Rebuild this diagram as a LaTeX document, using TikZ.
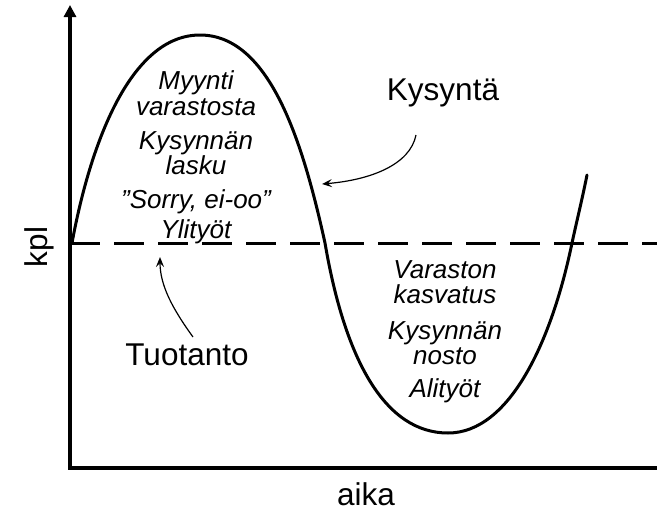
\documentclass[tikz,border=0pt]{standalone}
\usepackage{fontspec}
\setmainfont{Liberation Sans}
\usetikzlibrary{arrows.meta}
\tikzset{
  axisline/.style={line width=3.5pt},
  curveline/.style={line width=3pt, line cap=round},
  levelline/.style={line width=3pt, dash pattern=on 30pt off 14pt},
  pointer/.style={line width=1.2pt, -{Stealth[length=10pt,width=8pt,inset=4pt]}},
  biglabel/.style={font=\fontsize{31.5}{31.5}\selectfont, inner sep=0pt, anchor=base},
  inlabel/.style={font=\fontsize{26}{26}\selectfont\itshape, inner sep=0pt, anchor=base}
}
\begin{document}
\begin{tikzpicture}[x=1pt,y=-1pt]
\useasboundingbox (0,0) rectangle (657,515);
% axes
\draw[axisline, {Triangle[length=12pt,width=12pt]}-] (70,5) -- (70,468) -- (657,468);
% production level
\draw[levelline] (70,243) -- (657,243);
% demand curve
\draw[curveline] (72,243) .. controls (90,145) and (130,35) .. (200,35)
  .. controls (270,35) and (303,143) .. (325,243)
  .. controls (345,360) and (385,433) .. (448,433)
  .. controls (510,433) and (552,340) .. (572,243)
  .. controls (577,220) and (582,200) .. (587,175);
% labels
\node[biglabel] (kysynta) at (443,100) {Kysyntä};
\node[biglabel] (tuotanto) at (187,365) {Tuotanto};
\node[biglabel] (aika) at (366,505) {aika};
\node[biglabel, rotate=90] (kpl) at (48,247) {kpl};
% left group
\node[inlabel] (l1) at (196,89) {Myynti};
\node[inlabel] (l2) at (196,115) {varastosta};
\node[inlabel] (l3) at (196,149) {Kysynnän};
\node[inlabel] (l4) at (196,174) {lasku};
\node[inlabel] (l5) at (196,208) {”Sorry, ei-oo”};
\node[inlabel] (l6) at (196,238) {Ylityöt};
% right group
\node[inlabel] (r1) at (445,278) {Varaston};
\node[inlabel] (r2) at (445,303) {kasvatus};
\node[inlabel] (r3) at (445,339) {Kysynnän};
\node[inlabel] (r4) at (445,364) {nosto};
\node[inlabel] (r5) at (445,397) {Alityöt};
% pointers
\coordinate (kstart) at (416,135);
\coordinate (kend) at (322,184);
\coordinate (tstart) at (193,337);
\coordinate (tend) at (160,257);
\draw[pointer] (kstart) .. controls (410,165) and (370,180) .. (kend);
\draw[pointer] (tstart) .. controls (172,308) and (160,285) .. (tend);
\end{tikzpicture}
\end{document}
